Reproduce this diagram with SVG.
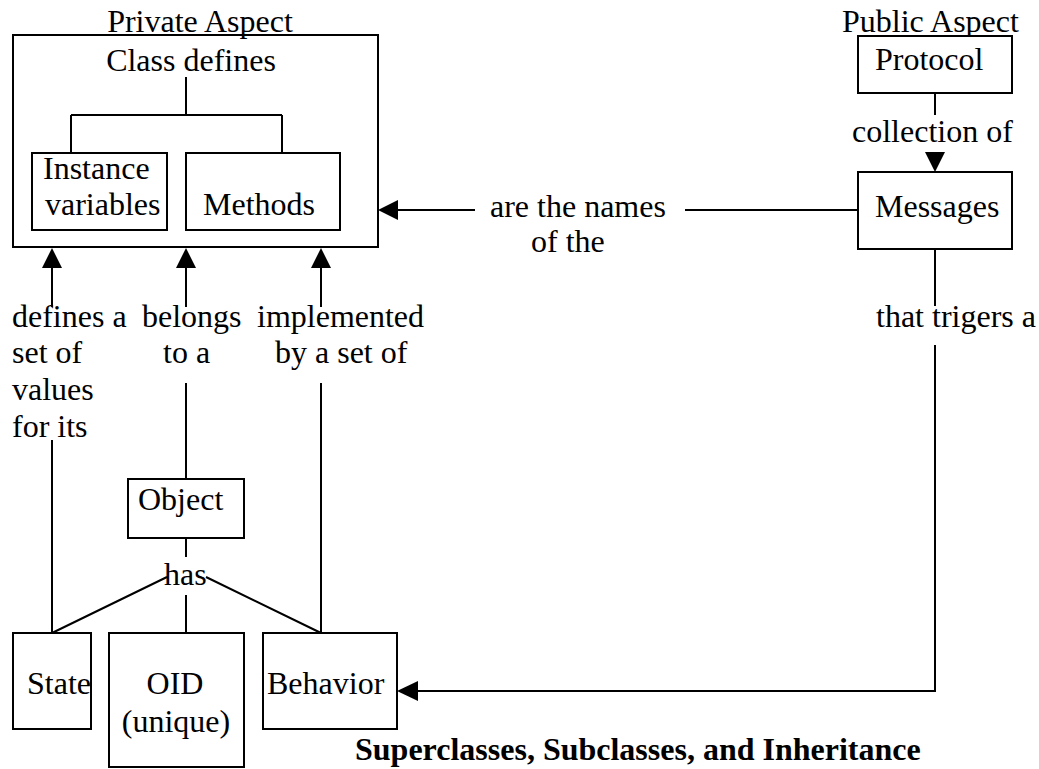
<svg xmlns="http://www.w3.org/2000/svg" width="1039" height="769" viewBox="0 0 1039 769">
<style>
text{font-family:"Liberation Serif","Times New Roman",serif;font-size:32px;fill:#000}
.b{font-weight:bold}
.box{fill:#fff;stroke:#000;stroke-width:2}
.ln{fill:none;stroke:#000;stroke-width:2}
.ah{fill:#000;stroke:none}
</style>
<rect width="1039" height="769" fill="#fff"/>
<g id="private">
<rect class="box" x="13" y="35" width="365" height="212"/>
<text x="200" y="32" text-anchor="middle">Private Aspect</text>
<text x="191" y="71" text-anchor="middle">Class defines</text>
<path class="ln" d="M186,77V115M71,115H282M71,115V153M282,115V153"/>
</g>
<g id="instvars">
<rect class="box" x="32" y="153" width="135" height="77"/>
<text x="43" y="179">Instance</text>
<text x="45" y="215">variables</text>
</g>
<g id="methods">
<rect class="box" x="186" y="153" width="154" height="77"/>
<text x="203" y="215">Methods</text>
</g>
<g id="protocol">
<text x="842" y="32">Public Aspect</text>
<rect class="box" x="858" y="36" width="154" height="57"/>
<text x="875" y="70">Protocol</text>
</g>
<g id="messages">
<rect class="box" x="858" y="172" width="154" height="77"/>
<text x="875" y="217">Messages</text>
</g>
<g id="object">
<rect class="box" x="128" y="479" width="116" height="59"/>
<text x="138" y="510">Object</text>
</g>
<g id="state">
<rect class="box" x="13" y="633" width="78" height="96"/>
<text x="27" y="694">State</text>
</g>
<g id="oid">
<rect class="box" x="109" y="633" width="135" height="134"/>
<text x="175" y="694" text-anchor="middle">OID</text>
<text x="176" y="732" text-anchor="middle">(unique)</text>
</g>
<g id="behavior">
<rect class="box" x="263" y="633" width="134" height="96"/>
<text x="267" y="694">Behavior</text>
</g>
<g id="connectors">
<path class="ln" d="M935,93V115"/>
<text x="852" y="142">collection of</text>
<polygon class="ah" points="925,152 945,152 935,172"/>
<path class="ln" d="M858,210H685M475,210H398"/>
<polygon class="ah" points="378,210 398,200 398,220"/>
<text x="490" y="217">are the names</text>
<text x="531" y="252">of the</text>
<path class="ln" d="M935,249V306M935,345V691H418"/>
<polygon class="ah" points="397,691 418,681 418,701"/>
<text x="876" y="327">that trigers a</text>
<polygon class="ah" points="52,248 42,268 62,268"/>
<polygon class="ah" points="186,248 176,268 196,268"/>
<polygon class="ah" points="321,248 311,268 331,268"/>
<path class="ln" d="M52,268V307M186,268V307M321,268V307"/>
<text x="12" y="327">defines a</text>
<text x="12" y="363">set of</text>
<text x="12" y="400">values</text>
<text x="12" y="437">for its</text>
<text x="142" y="327">belongs</text>
<text x="163" y="363">to a</text>
<text x="257" y="327">implemented</text>
<text x="275" y="363">by a set of</text>
<path class="ln" d="M52,440V633M186,383V479M321,383V633"/>
<path class="ln" d="M186,538V557M186,595V633M52,633L167,577M206,577L321,633"/>
<text x="164" y="585">has</text>
</g>
<text class="b" x="355" y="760">Superclasses, Subclasses, and Inheritance</text>
</svg>
